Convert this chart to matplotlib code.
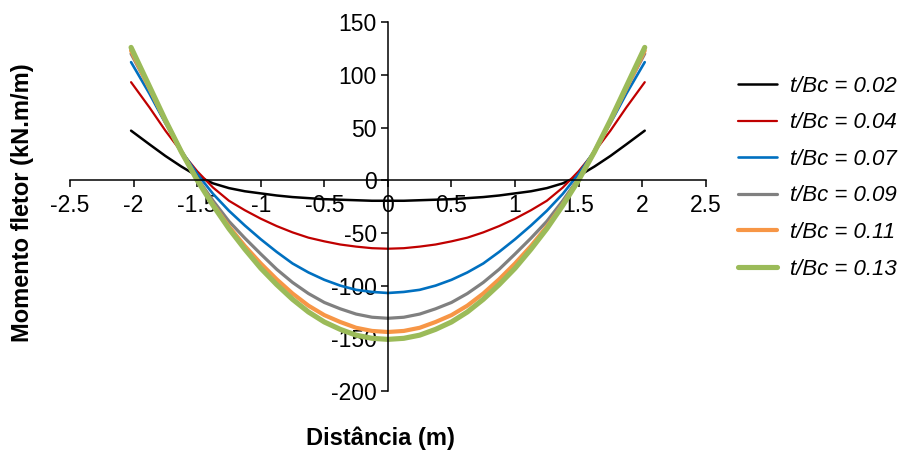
import matplotlib
matplotlib.use("Agg")
import matplotlib.pyplot as plt

plt.rcParams['font.family'] = ['Liberation Sans', 'DejaVu Sans']
plt.rcParams['axes.unicode_minus'] = False

# distance along the footing (m)
x = [-2.02, -1.875, -1.75, -1.625, -1.5, -1.375, -1.25, -1.125, -1.0, -0.875, -0.75,
     -0.625, -0.5, -0.375, -0.25, -0.125, 0.0, 0.125, 0.25, 0.375, 0.5, 0.625, 0.75,
     0.875, 1.0, 1.125, 1.25, 1.375, 1.5, 1.625, 1.75, 1.875, 2.02]

# bending moment (kN.m/m) for each t/Bc
m_002 = [47, 34, 23, 13, 4, -3, -7.5, -10.5, -12.5, -14.5, -16, -17, -18, -18.5, -19, -19.5,
         -19.5, -19.5, -19, -18.5, -18, -17, -16, -14.5, -12.5, -10.5, -7.5, -3, 4, 13, 23, 34, 47]
m_004 = [93, 69, 47, 27, 8.5, -7, -19.5, -28.5, -36.5, -43.5, -49.5, -54.5, -58, -61, -63, -64.5,
         -65, -64.5, -63, -61, -58, -54.5, -49.5, -43.5, -36.5, -28.5, -19.5, -7, 8.5, 27, 47, 69, 93]
m_007 = [112, 82, 54, 28, 6, -13, -29, -43, -56, -68, -79, -87.5, -94.5, -100, -104, -106,
         -107, -106, -104, -100, -94.5, -87.5, -79, -68, -56, -43, -29, -13, 6, 28, 54, 82, 112]
m_009 = [120, 87, 57, 28, 2, -19.5, -39, -55, -70, -84.5, -97, -107.5, -116, -122, -127, -130,
         -131, -130, -127, -122, -116, -107.5, -97, -84.5, -70, -55, -39, -19.5, 2, 28, 57, 87, 120]
m_011 = [123, 87, 56, 27, 0.5, -23, -44, -62.5, -79, -94, -107.5, -119, -128, -134.5, -140, -143,
         -144, -143, -140, -134.5, -128, -119, -107.5, -94, -79, -62.5, -44, -23, 0.5, 27, 56, 87, 123]
m_013 = [126, 89, 57, 27, 0, -24, -46, -65.5, -83.5, -99, -113, -125, -134.5, -141.5, -147, -150,
         -151, -150, -147, -141.5, -134.5, -125, -113, -99, -83.5, -65.5, -46, -24, 0, 27, 57, 89, 126]

labels = ["t/Bc = 0.02", "t/Bc = 0.04", "t/Bc = 0.07",
          "t/Bc = 0.09", "t/Bc = 0.11", "t/Bc = 0.13"]
colors = ["#000000", "#C00000", "#0070C0", "#808080", "#F79646", "#9BBB59"]
widths = [1.8, 1.6, 1.9, 2.3, 3.0, 3.7]
series = [m_002, m_004, m_007, m_009, m_011, m_013]

fig = plt.figure(figsize=(9.06, 4.51), dpi=100)
ax = fig.add_axes([0.0773, 0.133, 0.7017, 0.818])

for y, c, lw, lab in zip(series, colors, widths, labels):
    ax.plot(x, y, color=c, lw=lw, label=lab, solid_capstyle="round", solid_joinstyle="round")

ax.set_xlim(-2.5, 2.5)
ax.set_ylim(-200, 150)
ax.set_xticks([-2.5, -2, -1.5, -1, -0.5, 0, 0.5, 1, 1.5, 2, 2.5])
ax.set_xticklabels(["-2.5", "-2", "-1.5", "-1", "-0.5", "0", "0.5", "1", "1.5", "2", "2.5"])
ax.set_yticks([-200, -150, -100, -50, 0, 50, 100, 150])

# excel style axes crossing at the origin
ax.spines["left"].set_position(("data", 0))
ax.spines["bottom"].set_position(("data", 0))
ax.spines["top"].set_visible(False)
ax.spines["right"].set_visible(False)
ax.spines["left"].set_linewidth(1.1)
ax.spines["bottom"].set_linewidth(1.1)
ax.tick_params(axis="both", direction="out", length=5, width=1.1, labelsize=16.5)
ax.tick_params(axis="x", pad=5)
ax.tick_params(axis="y", pad=3)

fig.text(0.025, 0.55, "Momento fletor (kN.m/m)", rotation=90, ha="center", va="center",
         fontsize=17, fontweight="bold")
fig.text(0.42, 0.029, "Distância (m)", ha="center", va="center", fontsize=17, fontweight="bold")

ax.legend(loc="upper left", bbox_to_anchor=(0.8146, 0.832), bbox_transform=fig.transFigure,
          frameon=False, handlelength=1.75, labelspacing=0.7, handletextpad=0.6,
          borderpad=0, borderaxespad=0, prop={"style": "italic", "size": 16})

fig.savefig("out.png", dpi=100)
